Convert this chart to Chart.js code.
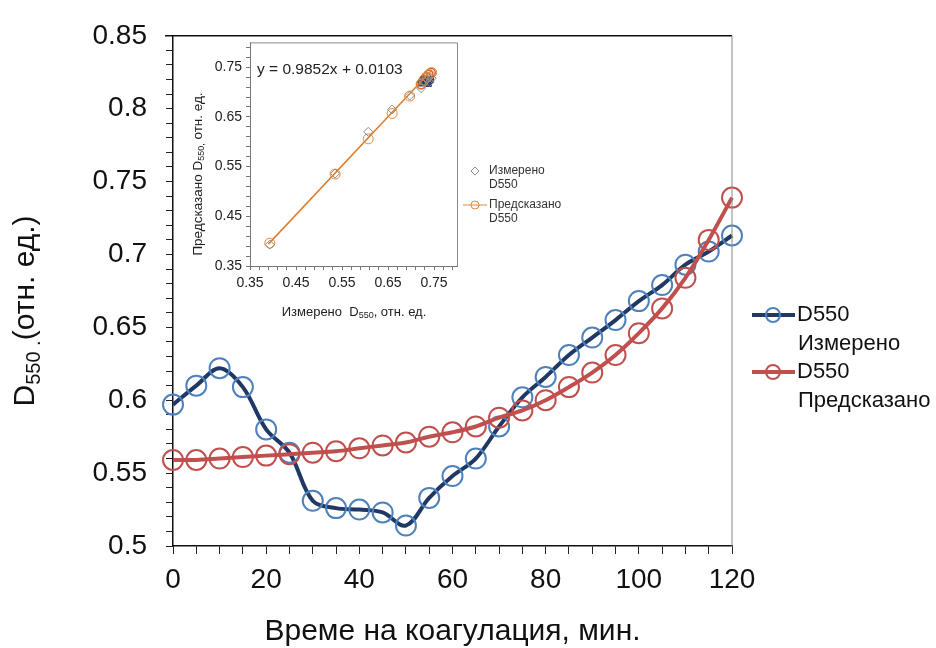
<!DOCTYPE html>
<html>
<head>
<meta charset="utf-8">
<script src="https://cdn.jsdelivr.net/npm/chart.js@4.4.1/dist/chart.umd.min.js"></script>
<style>
  html, body { margin: 0; padding: 0; background: #fff; }
  #wrap { position: relative; width: 936px; height: 648px; }
  #mainCanvas { position: absolute; left: 0; top: 0; }
  #insetCanvas { position: absolute; left: 180px; top: 30px; }
</style>
</head>
<body>
<div id="wrap">
  <canvas id="mainCanvas" width="936" height="648"></canvas>
  <canvas id="insetCanvas" width="400" height="300"></canvas>
</div>
<script>
// main plot: D550 over coagulation time
var times = [0, 5, 10, 15, 20, 25, 30, 35, 40, 45, 50, 55, 60,
             65, 70, 75, 80, 85, 90, 95, 100, 105, 110, 115, 120];
var measured = [0.597, 0.610, 0.622, 0.609, 0.580, 0.564, 0.531, 0.526, 0.525, 0.523, 0.514, 0.533, 0.548,
                0.560, 0.582, 0.602, 0.616, 0.631, 0.643, 0.655, 0.668, 0.679, 0.693, 0.702, 0.713];
var predicted = [0.559, 0.559, 0.560, 0.561, 0.562, 0.563, 0.564, 0.565, 0.567, 0.569, 0.571, 0.575, 0.578,
                 0.582, 0.588, 0.593, 0.600, 0.609, 0.619, 0.631, 0.646, 0.663, 0.684, 0.710, 0.739];
var xTickLabels = ['0', '20', '40', '60', '80', '100', '120'];
var yTickLabels = ['0.5', '0.55', '0.6', '0.65', '0.7', '0.75', '0.8', '0.85'];

// inset: predicted vs measured
var insetX = [0.393, 0.535, 0.607, 0.659, 0.697, 0.722, 0.728, 0.735, 0.740, 0.745];
var insetMeasuredY = [0.393, 0.536, 0.620, 0.665, 0.693, 0.708, 0.722, 0.726, 0.720, 0.728];
var insetPredictedY = [0.396, 0.535, 0.606, 0.657, 0.692, 0.716, 0.724, 0.730, 0.735, 0.739];
var clusterX = [0.722, 0.728, 0.733, 0.738, 0.743];
var clusterY = [0.718, 0.727, 0.722, 0.717, 0.725];
var fitX = [0.390, 0.745];
var fitY = [0.394, 0.744];
var insetTickLabels = ['0.35', '0.45', '0.55', '0.65', '0.75'];

var SANS = "'Liberation Sans', Arial, sans-serif";

function points(xs, ys) {
    return xs.map(function(x, i) { return { x: x, y: ys[i] }; });
}

function labelFor(list) {
    return function(value) {
        for (var i = 0; i < list.length; i++) {
            if (Math.abs(parseFloat(list[i]) - value) < 1e-6) return list[i];
        }
        return '';
    };
}

// draws text pieces one after another, subscripts get a baseline shift
function drawSubText(ctx, x, y, parts) {
    parts.forEach(function(p) {
        ctx.font = p.font;
        ctx.fillText(p.text, x, y + (p.shift || 0));
        x += ctx.measureText(p.text).width;
    });
    return x;
}
function subWidth(ctx, parts) {
    var w = 0;
    parts.forEach(function(p) { ctx.font = p.font; w += ctx.measureText(p.text).width; });
    return w;
}

var mainDecor = {
    id: 'mainDecor',
    afterDraw: function(chart) {
        var ctx = chart.ctx, a = chart.chartArea;
        ctx.save();
        // frame top and right
        ctx.strokeStyle = '#111';
        ctx.lineWidth = 1.5;
        ctx.beginPath();
        ctx.moveTo(a.left - 8, a.top);
        ctx.lineTo(a.right, a.top);
        ctx.stroke();
        ctx.strokeStyle = '#888';
        ctx.lineWidth = 1;
        ctx.beginPath();
        ctx.moveTo(a.right, a.top);
        ctx.lineTo(a.right, a.bottom);
        ctx.stroke();

        // axis titles
        ctx.fillStyle = '#111';
        ctx.textBaseline = 'middle';
        ctx.textAlign = 'center';
        ctx.font = '30px ' + SANS;
        ctx.fillText('Време на коагулация, мин.', (a.left + a.right) / 2, 632);

        var yParts = [
            { text: 'D', font: '30px ' + SANS },
            { text: '550', font: '20px ' + SANS, shift: 8 },
            { text: ' .', font: '20px ' + SANS, shift: 8 },
            { text: '(отн. ед.)', font: '30px ' + SANS }
        ];
        ctx.translate(26, 311);
        ctx.rotate(-Math.PI / 2);
        ctx.textAlign = 'left';
        drawSubText(ctx, -subWidth(ctx, yParts) / 2, 0, yParts);
        ctx.setTransform(1, 0, 0, 1, 0, 0);

        // legend on the right
        var rows = [
            { ds: chart.data.datasets[1], y: 315, lines: ['D550', 'Измерено'] },
            { ds: chart.data.datasets[0], y: 372, lines: ['D550', 'Предсказано'] }
        ];
        rows.forEach(function(r) {
            ctx.strokeStyle = r.ds.borderColor;
            ctx.lineWidth = 4;
            ctx.beginPath();
            ctx.moveTo(752, r.y);
            ctx.lineTo(795, r.y);
            ctx.stroke();
            ctx.strokeStyle = r.ds.pointBorderColor;
            ctx.lineWidth = 2;
            ctx.beginPath();
            ctx.arc(773, r.y, 7, 0, Math.PI * 2);
            ctx.stroke();
            ctx.fillStyle = '#111';
            ctx.font = '22px ' + SANS;
            ctx.textAlign = 'left';
            ctx.fillText(r.lines[0], 797, r.y);
            ctx.fillText(r.lines[1], 798, r.y + 28.5);
        });
        ctx.restore();
    }
};

var mainChart = new Chart(document.getElementById('mainCanvas').getContext('2d'), {
    type: 'line',
    data: {
        datasets: [
            {
                label: 'D550 Предсказано',
                data: points(times, predicted),
                order: 0,
                borderColor: '#C0504D',
                borderWidth: 4,
                pointRadius: 10,
                pointBorderWidth: 2,
                pointBorderColor: '#C0504D',
                pointBackgroundColor: 'rgba(0,0,0,0)',
                tension: 0.35,
                clip: false
            },
            {
                label: 'D550 Измерено',
                data: points(times, measured),
                order: 1,
                borderColor: '#1F3864',
                borderWidth: 4,
                pointRadius: 10,
                pointBorderWidth: 2,
                pointBorderColor: '#4F81BD',
                pointBackgroundColor: 'rgba(0,0,0,0)',
                tension: 0.35,
                clip: false
            }
        ]
    },
    options: {
        responsive: false,
        animation: false,
        layout: { padding: { left: 0, top: 25, right: 204, bottom: 0 } },
        plugins: { legend: { display: false }, tooltip: { enabled: false } },
        scales: {
            x: {
                type: 'linear', min: 0, max: 120,
                afterFit: function(s) { s.height = 102; },
                ticks: {
                    stepSize: 5, autoSkip: false, maxRotation: 0, padding: 9,
                    color: '#111', font: { size: 28, family: SANS },
                    callback: labelFor(xTickLabels)
                },
                grid: { drawOnChartArea: false, drawTicks: true, tickLength: 8, color: '#222', lineWidth: 1 },
                border: { display: true, color: '#111', width: 1.5 }
            },
            y: {
                type: 'linear', min: 0.5, max: 0.85,
                afterFit: function(s) { s.width = 173; },
                ticks: {
                    stepSize: 0.01, autoSkip: false, padding: 19,
                    color: '#111', font: { size: 28, family: SANS },
                    callback: labelFor(yTickLabels)
                },
                grid: { drawOnChartArea: false, drawTicks: true, tickLength: 7, color: '#222', lineWidth: 1 },
                border: { display: true, color: '#111', width: 1.5 }
            }
        }
    },
    plugins: [mainDecor]
});

// inset minor tick positions every 0.02 starting at 0.35
function insetTicks(scale) {
    var t = [];
    for (var k = 0; k <= 22; k++) t.push({ value: Math.round((0.35 + 0.02 * k) * 1000) / 1000 });
    scale.ticks = t;
}

var insetDecor = {
    id: 'insetDecor',
    afterDraw: function(chart) {
        var ctx = chart.ctx, a = chart.chartArea;
        ctx.save();
        ctx.strokeStyle = '#8a8a8a';
        ctx.lineWidth = 1;
        ctx.beginPath();
        ctx.moveTo(a.left, a.top + 0.5);
        ctx.lineTo(a.right + 0.5, a.top + 0.5);
        ctx.lineTo(a.right + 0.5, a.bottom);
        ctx.stroke();

        ctx.fillStyle = '#222';
        ctx.textBaseline = 'middle';
        ctx.textAlign = 'left';
        ctx.font = '15.5px ' + SANS;
        ctx.fillText('y = 0.9852x + 0.0103', a.left + 7, 40);

        // x title
        var xParts = [
            { text: 'Измерено  D', font: '13px ' + SANS },
            { text: '550', font: '9px ' + SANS, shift: 4 },
            { text: ', отн. ед.', font: '13px ' + SANS }
        ];
        drawSubText(ctx, 174 - subWidth(ctx, xParts) / 2, 282, xParts);

        // y title
        var yParts = [
            { text: 'Предсказано D', font: '13.5px ' + SANS },
            { text: '550,', font: '9px ' + SANS, shift: 4 },
            { text: ' отн. ед.', font: '13.5px ' + SANS }
        ];
        ctx.translate(18, 144);
        ctx.rotate(-Math.PI / 2);
        drawSubText(ctx, -subWidth(ctx, yParts) / 2, 0, yParts);
        ctx.setTransform(1, 0, 0, 1, 0, 0);

        // legend beside the frame
        var meas = chart.data.datasets[0], pred = chart.data.datasets[1];
        ctx.strokeStyle = meas.pointBorderColor;
        ctx.lineWidth = 1;
        ctx.beginPath();
        ctx.moveTo(295, 137); ctx.lineTo(299, 141); ctx.lineTo(295, 145); ctx.lineTo(291, 141);
        ctx.closePath();
        ctx.stroke();
        ctx.strokeStyle = pred.pointBorderColor;
        ctx.beginPath();
        ctx.moveTo(283, 175); ctx.lineTo(307, 175);
        ctx.stroke();
        ctx.beginPath();
        ctx.arc(295, 175, 4, 0, Math.PI * 2);
        ctx.stroke();
        ctx.fillStyle = '#333';
        ctx.font = '12px ' + SANS;
        ctx.fillText('Измерено', 309, 141);
        ctx.fillText('D550', 309, 155);
        ctx.fillText('Предсказано', 309, 175);
        ctx.fillText('D550', 309, 189);
        ctx.restore();
    }
};

var insetChart = new Chart(document.getElementById('insetCanvas').getContext('2d'), {
    type: 'scatter',
    data: {
        datasets: [
            {
                label: 'Измерено D550',
                data: points(insetX, insetMeasuredY),
                pointStyle: 'rectRot',
                pointRadius: 4.5,
                pointBorderWidth: 1,
                pointBorderColor: '#8c8c8c',
                pointBackgroundColor: 'rgba(0,0,0,0)',
                showLine: false,
                clip: false
            },
            {
                label: 'Предсказано D550',
                data: points(insetX, insetPredictedY),
                pointStyle: 'circle',
                pointRadius: 5,
                pointBorderWidth: 1,
                pointBorderColor: '#E0883A',
                pointBackgroundColor: 'rgba(0,0,0,0)',
                showLine: false,
                clip: false
            },
            {
                label: 'fit',
                data: points(fitX, fitY),
                showLine: true,
                borderColor: '#E07B28',
                borderWidth: 1.5,
                pointRadius: 0,
                clip: false
            },
            {
                label: 'D550 Измерено',
                data: points(clusterX, clusterY),
                pointStyle: 'rect',
                pointRadius: 4,
                pointBorderWidth: 1,
                pointBorderColor: '#1F3864',
                pointBackgroundColor: '#2E4A7A',
                showLine: false,
                clip: false
            },
            {
                label: 'D550 Предсказано',
                data: points(clusterX, insetPredictedY.slice(5)),
                pointStyle: 'circle',
                pointRadius: 4.5,
                pointBorderWidth: 1.5,
                pointBorderColor: '#D9603B',
                pointBackgroundColor: 'rgba(0,0,0,0)',
                showLine: false,
                clip: false
            }
        ]
    },
    options: {
        responsive: false,
        animation: false,
        layout: { padding: { left: 0, top: 12, right: 123, bottom: 0 } },
        plugins: { legend: { display: false }, tooltip: { enabled: false } },
        scales: {
            x: {
                type: 'linear', min: 0.35, max: 0.8,
                afterBuildTicks: insetTicks,
                afterFit: function(s) { s.height = 64; },
                ticks: {
                    autoSkip: false, maxRotation: 0, padding: 5,
                    color: '#222', font: { size: 14, family: SANS },
                    callback: labelFor(insetTickLabels)
                },
                grid: { drawOnChartArea: false, drawTicks: true, tickLength: 4, color: '#777', lineWidth: 1 },
                border: { display: true, color: '#777', width: 1 }
            },
            y: {
                type: 'linear', min: 0.35, max: 0.8,
                afterBuildTicks: insetTicks,
                afterFit: function(s) { s.width = 70; },
                ticks: {
                    autoSkip: false, padding: 4,
                    color: '#222', font: { size: 14, family: SANS },
                    callback: labelFor(insetTickLabels)
                },
                grid: { drawOnChartArea: false, drawTicks: true, tickLength: 4, color: '#777', lineWidth: 1 },
                border: { display: true, color: '#777', width: 1 }
            }
        }
    },
    plugins: [insetDecor]
});
</script>
</body>
</html>
